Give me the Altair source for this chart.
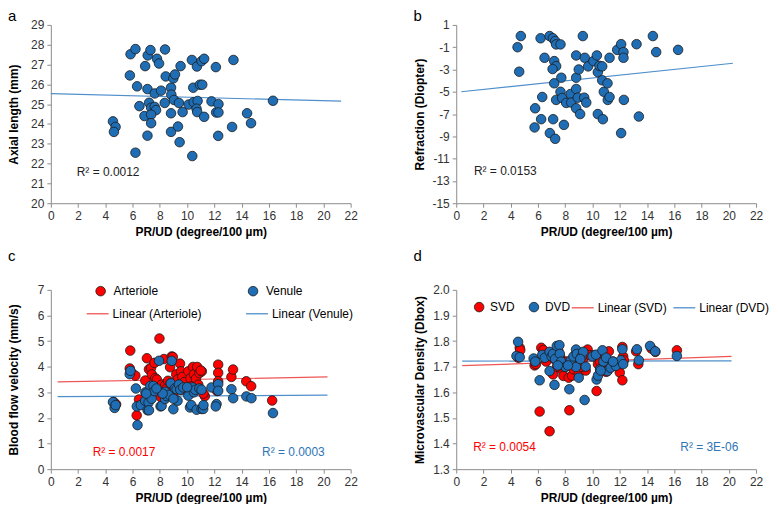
import altair as alt
import pandas as pd

# ---------------- data ----------------
X_TICKS = [0, 2, 4, 6, 8, 10, 12, 14, 16, 18, 20, 22]

# panel a : axial length
a_x = [4.56, 4.75, 4.63, 5.85, 6.21, 5.80, 6.33, 6.50, 6.21, 7.11,
       7.31, 6.92, 7.09, 7.62, 7.79, 7.94, 8.09, 8.38, 7.21, 7.36,
       7.62, 7.72, 6.87, 7.36, 7.36, 7.09, 8.43, 8.36, 8.82, 8.84,
       8.99, 9.11, 9.04, 8.82, 8.82, 9.33, 9.40, 9.52, 9.67, 9.45,
       10.11, 10.35, 10.45, 10.48, 10.38, 10.72, 10.94, 11.06, 11.25, 11.11,
       10.77, 10.69, 10.74, 11.25, 11.79, 12.11, 12.13, 12.30, 12.30, 12.28,
       13.30, 13.40, 14.40, 14.69, 16.30]
a_y = [24.13, 23.85, 23.60, 27.52, 27.78, 26.45, 25.90, 24.90, 22.55, 27.46,
       27.73, 26.92, 25.76, 25.54, 27.29, 27.05, 25.68, 27.76, 25.07, 24.82,
       24.86, 24.70, 24.40, 24.47, 24.04, 23.41, 26.40, 25.06, 25.83, 25.48,
       26.30, 26.50, 25.21, 24.54, 23.60, 23.87, 25.06, 26.92, 24.60, 23.08,
       24.98, 27.23, 25.83, 25.10, 22.38, 26.90, 25.98, 27.17, 27.29, 25.98,
       25.16, 24.77, 24.60, 24.36, 25.14, 26.87, 24.58, 25.00, 24.58, 23.40,
       23.85, 27.23, 24.54, 24.04, 25.17]
a_trend_x = [0.0, 21.3]
a_trend_y = [25.53, 25.15]
a_r2 = ["R² = 0.0012"]
a_r2_pos = [1.9, 21.58]

# panel b : refraction
b_x = [4.74, 4.50, 4.62, 6.19, 6.85, 7.09, 7.26, 7.33, 7.65, 6.48,
       7.19, 7.33, 7.07, 7.71, 7.19, 7.65, 6.31, 7.33, 7.77, 5.79,
       8.07, 8.39, 8.44, 8.80, 8.80, 8.80, 8.92, 8.80, 8.99, 9.09,
       9.29, 9.43, 9.68, 9.39, 9.54, 10.07, 10.32, 10.39, 10.51, 10.71,
       10.71, 10.39, 10.76, 10.83, 11.10, 11.12, 11.25, 11.25, 11.81, 12.10,
       12.27, 12.27, 12.30, 12.10, 13.23, 13.40, 14.43, 14.67, 16.28, 5.75,
       6.23, 6.87, 7.11, 7.26, 7.90]
b_y = [0.00, -1.00, -3.20, -0.20, 0.00, -0.20, -0.45, -0.75, -0.75, -1.95,
       -2.25, -2.70, -2.96, -3.74, -4.24, -5.00, -5.47, -5.73, -5.56, -6.48,
       -6.00, -5.20, -5.97, -1.74, -3.74, -4.75, -5.53, -6.48, -3.00, -7.00,
       0.00, -1.95, -2.72, -5.53, -5.97, -2.25, -1.74, -3.24, -2.67, -2.72,
       -3.97, -7.00, -7.46, -5.00, -4.24, -5.73, -5.47, -1.95, -1.24, -0.73,
       -1.44, -1.95, -5.73, -8.71, -0.73, -7.22, 0.00, -1.44, -1.24, -8.20,
       -7.46, -8.71, -7.46, -9.22, -7.97]
b_trend_x = [0.37, 20.3]
b_trend_y = [-5.00, -2.44]
b_r2 = ["R² = 0.0153"]
b_r2_pos = [1.3, -12.14]

# panel c : blood flow velocity
c_art_x = [4.62, 4.79, 5.83, 5.79, 5.95, 6.20, 6.30, 6.47, 6.93, 7.05,
           7.12, 7.20, 7.35, 7.41, 7.60, 7.66, 7.78, 7.97, 8.10, 8.14,
           8.30, 8.39, 8.50, 8.60, 8.75, 8.80, 8.87, 8.95, 9.00, 9.12,
           9.20, 9.30, 9.48, 9.55, 9.65, 9.80, 10.09, 10.25, 10.33, 10.43,
           10.50, 10.65, 10.74, 10.82, 10.90, 11.08, 11.00, 11.30, 12.20, 12.28,
           12.28, 12.28, 13.25, 13.37, 14.34, 14.70, 16.24, 7.30, 8.45, 9.60,
           10.40, 11.20]
c_art_y = [2.62, 2.53, 4.63, 3.93, 3.75, 3.65, 2.10, 2.72, 3.46, 4.33,
           2.98, 3.90, 3.95, 3.70, 4.15, 3.55, 3.50, 5.10, 2.80, 3.30,
           4.30, 3.27, 3.15, 3.45, 3.98, 3.35, 4.40, 4.38, 2.95, 3.24,
           3.70, 3.50, 4.12, 3.82, 3.60, 3.40, 3.82, 3.55, 3.24, 3.99,
           3.70, 3.53, 3.99, 3.30, 3.75, 3.82, 3.85, 2.85, 3.05, 4.08,
           3.76, 3.43, 3.60, 3.89, 3.43, 3.24, 2.68, 2.75, 2.90, 3.10,
           3.00, 2.95]
c_ven_x = [4.56, 4.68, 4.75, 5.79, 5.84, 6.24, 6.31, 6.36, 6.60, 6.92,
           6.94, 7.10, 7.17, 7.20, 7.30, 7.40, 7.53, 7.60, 7.94, 8.05,
           8.13, 8.38, 8.38, 8.50, 8.70, 8.87, 8.80, 8.99, 9.10, 9.23,
           9.30, 9.40, 9.50, 9.72, 10.09, 10.21, 10.30, 10.40, 10.50, 10.60,
           10.70, 10.90, 11.06, 11.06, 11.18, 11.20, 11.79, 12.16, 12.10, 12.28,
           12.28, 13.25, 13.38, 14.35, 14.72, 16.30, 7.00, 8.20, 9.00, 7.75,
           10.00]
c_ven_y = [2.62, 2.39, 2.50, 3.71, 3.84, 3.15, 2.45, 1.72, 2.50, 2.67,
           3.00, 2.30, 2.60, 2.30, 3.25, 2.75, 3.25, 3.05, 4.23, 2.45,
           2.47, 3.02, 2.74, 2.85, 2.90, 4.23, 3.35, 2.34, 3.15, 3.12,
           2.67, 3.30, 3.10, 3.19, 2.87, 2.41, 2.50, 3.19, 3.00, 3.10,
           2.32, 3.15, 3.10, 2.35, 2.35, 2.50, 3.19, 2.54, 2.45, 3.32,
           3.06, 3.12, 2.77, 2.84, 2.77, 2.19, 2.95, 2.95, 2.75, 3.15,
           3.20]
c_trend_x = [0.5, 20.3]
c_art_trend_y = [3.41, 3.60]
c_ven_trend_y = [2.83, 2.89]
c_r2 = ["R² = 0.0017", "R² = 0.0003"]
c_r2_x = [3.07, 20.1]
c_r2_y = [0.67, 0.67]

# panel d : microvascular density
d_svd_x = [4.54, 4.66, 4.70, 5.75, 5.85, 6.12, 6.24, 6.40, 6.60, 6.85,
           6.95, 7.10, 7.20, 7.30, 7.50, 7.65, 7.70, 7.86, 8.00, 8.25,
           8.30, 8.50, 8.60, 8.75, 8.85, 9.00, 9.10, 9.30, 9.50, 9.64,
           9.80, 10.10, 10.30, 10.40, 10.55, 10.70, 10.90, 11.00, 11.20, 11.30,
           11.50, 12.00, 12.19, 12.19, 12.25, 12.30, 13.20, 13.36, 14.32, 14.61,
           16.19, 7.40, 8.10, 9.20, 10.80, 11.80]
d_svd_y = [1.735, 1.774, 1.765, 1.705, 1.710, 1.525, 1.774, 1.765, 1.720, 1.448,
           1.745, 1.670, 1.730, 1.745, 1.760, 1.735, 1.690, 1.664, 1.700, 1.657,
           1.530, 1.665, 1.690, 1.745, 1.760, 1.675, 1.710, 1.730, 1.685, 1.767,
           1.745, 1.745, 1.605, 1.710, 1.720, 1.755, 1.740, 1.680, 1.760, 1.705,
           1.720, 1.677, 1.647, 1.777, 1.740, 1.725, 1.760, 1.710, 1.771, 1.758,
           1.764, 1.700, 1.720, 1.700, 1.705, 1.710]
d_dvd_x = [4.42, 4.54, 4.66, 5.68, 5.80, 6.12, 6.31, 6.50, 6.85, 6.85,
           7.00, 7.10, 7.21, 7.25, 7.38, 7.57, 7.60, 7.70, 8.01, 8.30,
           8.40, 8.60, 8.79, 8.79, 8.85, 8.99, 9.20, 9.32, 9.42, 9.50,
           10.00, 10.25, 10.30, 10.40, 10.55, 10.73, 10.80, 11.00, 11.10, 11.33,
           11.71, 12.07, 12.19, 12.25, 13.26, 13.40, 14.22, 14.60, 16.19, 7.45,
           9.10, 10.60, 11.50, 8.20]
d_dvd_y = [1.742, 1.797, 1.737, 1.732, 1.720, 1.647, 1.746, 1.735, 1.683, 1.758,
           1.740, 1.750, 1.629, 1.730, 1.781, 1.784, 1.750, 1.720, 1.699, 1.612,
           1.725, 1.740, 1.767, 1.699, 1.750, 1.657, 1.740, 1.758, 1.570, 1.700,
           1.740, 1.747, 1.650, 1.665, 1.690, 1.764, 1.720, 1.735, 1.683, 1.696,
           1.703, 1.725, 1.768, 1.710, 1.768, 1.725, 1.781, 1.760, 1.742, 1.705,
           1.730, 1.685, 1.720, 1.705]
d_trend_x = [0.44, 20.2]
d_svd_trend_y = [1.704, 1.740]
d_dvd_trend_y = [1.722, 1.723]
d_r2 = ["R² = 0.0054", "R² = 3E-06"]
d_r2_x = [1.24, 20.7]
d_r2_y = [1.388, 1.388]

# ---------------- style ----------------
FONT = "Liberation Sans"
BLUE = "#1F6EB5"
RED = "#FF0000"
BLUE_LINE = "#4F8FCB"
RED_LINE = "#EE5555"
BLUE_TXT = "#2E75B6"
EDGE = "#1B1B1B"
AXIS = "#8C8C8C"
LABEL = "#333333"
W = 301
X_TITLE = "PR/UD (degree/100 µm)"
PT_SIZE = 92


def x_enc(tpad=5):
    return alt.X("x:Q", scale=alt.Scale(domain=[0, 22], nice=False, zero=False),
                 axis=alt.Axis(values=X_TICKS, title=X_TITLE, grid=False, labelFlush=False,
                               labelOverlap=False, tickSize=4, labelPadding=3, titlePadding=tpad,
                               domainColor=AXIS, tickColor=AXIS, labelColor=LABEL, labelFont=FONT,
                               labelFontSize=12, titleFont=FONT, titleFontSize=12,
                               titleFontWeight="bold", titleColor="black"))


def y_enc(title, dom, ticks, fmt):
    expr = ("datum.value < 0 ? '-' + format(-datum.value, '%s') : format(datum.value, '%s')"
            % (fmt, fmt))
    return alt.Y("y:Q", scale=alt.Scale(domain=dom, nice=False, zero=False),
                 axis=alt.Axis(values=ticks, title=title, grid=False, labelFlush=False,
                               labelOverlap=False, tickSize=4, labelPadding=3, titlePadding=4,
                               minExtent=26, maxExtent=26, labelExpr=expr,
                               domainColor=AXIS, tickColor=AXIS, labelColor=LABEL, labelFont=FONT,
                               labelFontSize=12, titleFont=FONT, titleFontSize=12,
                               titleFontWeight="bold", titleColor="black"))


def panel_title(letter, offset):
    return alt.TitleParams(letter, anchor="start", frame="bounds", fontSize=15,
                           fontWeight="normal", font=FONT, color="black", offset=offset)


def simple_panel(letter, xs, ys, tx, ty, r2, r2pos, ytitle, dom, ticks, h):
    yy = y_enc(ytitle, dom, ticks, "d")
    xx = x_enc(5)
    pts = alt.Chart(pd.DataFrame({"x": xs, "y": ys})).mark_circle(
        size=PT_SIZE, opacity=1, color=BLUE, stroke=EDGE, strokeWidth=0.8
    ).encode(x=xx, y=yy)
    line = alt.Chart(pd.DataFrame({"x": tx, "y": ty})).mark_line(
        color=BLUE_LINE, strokeWidth=1.2
    ).encode(x=xx, y=yy)
    txt = alt.Chart(pd.DataFrame({"x": [r2pos[0]], "y": [r2pos[1]], "t": r2})).mark_text(
        align="left", baseline="middle", font=FONT, fontSize=12, color="#222222"
    ).encode(x=xx, y=yy, text="t:N")
    return alt.layer(line, pts, txt).properties(width=W, height=h, title=panel_title(letter, -5))


def leg_circle(x, y, colpad, offset):
    return alt.Legend(title=None, orient="none", legendX=x, legendY=y, direction="horizontal",
                      columns=2, columnPadding=colpad, symbolType="circle", symbolSize=PT_SIZE,
                      symbolStrokeColor=EDGE, symbolStrokeWidth=0.8, symbolOpacity=1,
                      labelFont=FONT, labelFontSize=12, labelColor="black", labelOffset=offset,
                      padding=0, labelLimit=200)


def leg_line(x, y, colpad):
    return alt.Legend(title=None, orient="none", legendX=x, legendY=y, direction="horizontal",
                      columns=2, columnPadding=colpad, symbolType="stroke", symbolSize=484,
                      symbolStrokeWidth=1.3, symbolOpacity=1,
                      labelFont=FONT, labelFontSize=12, labelColor="black", labelOffset=3,
                      padding=0, labelLimit=200)


def dual_panel(letter, ax, ay, bx, by, names, lnames, tx, ty1, ty2, r2, r2x, r2y,
               ytitle, dom, ticks, fmt, h, fill_leg, stroke_leg, toff):
    yy = y_enc(ytitle, dom, ticks, fmt)
    xx = x_enc(5)
    pdf = pd.DataFrame({"x": ax + bx, "y": ay + by,
                        "s": [names[0]] * len(ax) + [names[1]] * len(bx)})
    ldf = pd.DataFrame({"x": tx + tx, "y": ty1 + ty2,
                        "s": [lnames[0]] * len(tx) + [lnames[1]] * len(tx)})
    pts = alt.Chart(pdf).mark_circle(
        size=PT_SIZE, opacity=1, stroke=EDGE, strokeWidth=0.8
    ).encode(x=xx, y=yy,
             fill=alt.Fill("s:N", scale=alt.Scale(domain=names, range=[RED, BLUE]),
                           sort=names, legend=fill_leg))
    line = alt.Chart(ldf).mark_line(strokeWidth=1.2).encode(
        x=xx, y=yy,
        stroke=alt.Stroke("s:N", scale=alt.Scale(domain=lnames, range=[RED_LINE, BLUE_LINE]),
                          sort=lnames, legend=stroke_leg))
    t1 = alt.Chart(pd.DataFrame({"x": [r2x[0]], "y": [r2y[0]], "t": [r2[0]]})).mark_text(
        align="left", baseline="middle", font=FONT, fontSize=12, color=RED
    ).encode(x=xx, y=yy, text="t:N")
    t2 = alt.Chart(pd.DataFrame({"x": [r2x[1]], "y": [r2y[1]], "t": [r2[1]]})).mark_text(
        align="right", baseline="middle", font=FONT, fontSize=12, color=BLUE_TXT
    ).encode(x=xx, y=yy, text="t:N")
    return alt.layer(line, pts, t1, t2).properties(width=W, height=h,
                                                   title=panel_title(letter, toff))


pa = simple_panel("a", a_x, a_y, a_trend_x, a_trend_y, a_r2, a_r2_pos,
                  "Axial length (mm)", [20, 29], list(range(20, 30)), 179)
pb = simple_panel("b", b_x, b_y, b_trend_x, b_trend_y, b_r2, b_r2_pos,
                  "Refraction  (Diopter)", [-15, 1], list(range(-15, 2, 2)), 179)
pc = dual_panel("c", c_art_x, c_art_y, c_ven_x, c_ven_y, ["Arteriole", "Venule"],
                ["Linear (Arteriole)", "Linear (Venule)"], c_trend_x, c_art_trend_y,
                c_ven_trend_y, c_r2, c_r2_x, c_r2_y, "Blood flow velocity (mm/s)",
                [0, 7], list(range(0, 8)), "d", 180,
                leg_circle(44, -5, 88, 7), leg_line(35, 12, 41), 20)
pd_ = dual_panel("d", d_svd_x, d_svd_y, d_dvd_x, d_dvd_y, ["SVD", "DVD"],
                 ["Linear (SVD)", "Linear (DVD)"], d_trend_x, d_svd_trend_y,
                 d_dvd_trend_y, d_r2, d_r2_x, d_r2_y, "Microvascular Density (Dbox)",
                 [1.3, 2.0], [1.3, 1.4, 1.5, 1.6, 1.7, 1.8, 1.9, 2.0], ".1f", 180,
                 leg_circle(17, 11, 12, 5), leg_line(115, 6, 3), 20)

row1 = alt.hconcat(pa, pb, spacing=56)
row2 = alt.hconcat(pc, pd_, spacing=56).resolve_scale(
    fill="independent", stroke="independent").resolve_legend(
    fill="independent", stroke="independent")

chart = alt.vconcat(row1, row2, spacing=12).resolve_scale(
    fill="independent", stroke="independent").resolve_legend(
    fill="independent", stroke="independent").properties(padding=0).configure_view(stroke=None)

chart.save("out.html", embed_options={"renderer": "svg", "actions": False})
